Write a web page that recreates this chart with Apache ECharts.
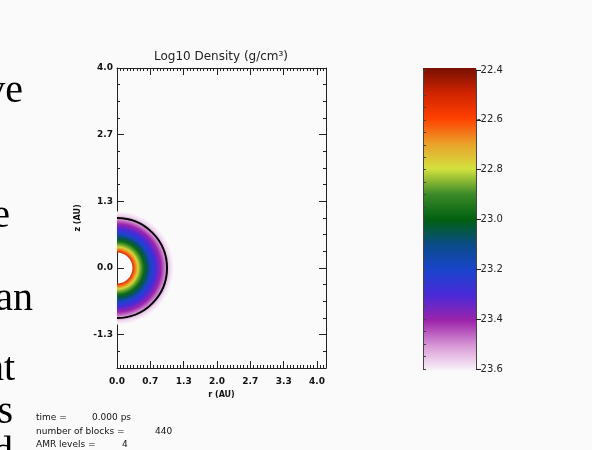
<!DOCTYPE html>
<html>
<head>
<meta charset="utf-8">
<script src="https://cdn.jsdelivr.net/npm/echarts@6/dist/echarts.min.js"></script>
<style>
  html, body { margin: 0; padding: 0; background: #fafafa; }
  #main { width: 592px; height: 450px; }
</style>
</head>
<body>
<div id="main"></div>
<script>
// radial profile of log10 density across the shell (r in AU)
const profileR = [0.31, 0.36, 0.42, 0.48, 0.54, 0.60, 0.68, 0.78, 0.88, 0.98, 1.06, 1.13];
const profileLogRho = [-22.50, -22.65, -22.78, -22.88, -22.98, -23.06, -23.20, -23.30, -23.40, -23.50, -23.57, -23.60];
const shellRadius = 1.0; // black contour

// plot axes
const rMin = 0, rMax = 4.18;
const zMin = -2, zMax = 4;
const zMajorTicks = [-4 / 3, 0, 4 / 3, 8 / 3, 4];

// colour bar
const cbMin = -23.6, cbMax = -22.4;
// palette, bottom (-23.6) to top (-22.4), one colour per 0.1
const paletteColors = [
  '#faf6fa', '#d898d6', '#9c24aa', '#4a2ad8', '#1a44cc', '#0a4c88', '#006010',
  '#3c8a28', '#d2e23e', '#eaa02a', '#ff4000', '#d02400', '#781000'
];

// annotation text
const titleText = 'Log10 Density (g/cm\u00b3)';
const infoLabels = ['time =', 'number of blocks =', 'AMR levels ='];
const infoValues = ['0.000 ps', '440', '4'];
const slideFragments = ['ve', 'e', 'an', 'nt', 'es', 'd'];

const chart = echarts.init(document.getElementById('main'));

function colorOf(v) {
  const t = Math.max(0, Math.min(1, (v - cbMin) / (cbMax - cbMin)));
  return echarts.color.lerp(t, paletteColors);
}

function isMultiple(v, step) {
  const k = v / step;
  return Math.abs(k - Math.round(k)) < 1e-6;
}

function fmt1(v) {
  return Math.abs(v) < 1e-9 ? '0.0' : v.toFixed(1);
}

const axisFont = { fontFamily: 'DejaVu Sans', fontSize: 9, fontWeight: 'bold', color: '#111' };
const lineStyle = { color: '#222', width: 1 };

function renderShell(params, api) {
  const c = api.coord([0, 0]);
  const k = api.size([1, 0])[0];
  const rOut = profileR[profileR.length - 1] * k;
  const stops = profileR.map((r, i) => ({ offset: (r * k) / rOut, color: colorOf(profileLogRho[i]) }));
  return {
    type: 'group',
    children: [
      {
        type: 'sector',
        shape: { cx: c[0], cy: c[1], r0: profileR[0] * k, r: rOut, startAngle: -Math.PI / 2, endAngle: Math.PI / 2 },
        style: { fill: new echarts.graphic.RadialGradient(c[0], c[1], rOut, stops, true) }
      },
      {
        type: 'arc',
        shape: { cx: c[0], cy: c[1], r: shellRadius * k, startAngle: -Math.PI / 2, endAngle: Math.PI / 2 },
        style: { stroke: '#000', lineWidth: 2, fill: null }
      }
    ]
  };
}

function renderColorbar(params, api) {
  const p0 = api.coord([0, api.value(1)]);
  const p1 = api.coord([1, api.value(2)]);
  const stops = paletteColors.map((c, i) => ({ offset: i / (paletteColors.length - 1), color: c }));
  return {
    type: 'rect',
    shape: { x: p0[0], y: p1[1] - 2, width: p1[0] - p0[0], height: p0[1] - p1[1] + 4 },
    style: { fill: new echarts.graphic.LinearGradient(0, 1, 0, 0, stops) }
  };
}

const graphics = [];
const fragX = [23, 10, 33, 15, 13, 13];
const fragY = [111, 236, 319, 389, 432, 473];
slideFragments.forEach((s, i) => {
  graphics.push({
    type: 'text', x: fragX[i], y: fragY[i],
    style: { text: s, font: '40px "Liberation Serif"', fill: '#000', textAlign: 'right', textVerticalAlign: 'bottom' }
  });
});
const infoY = [418, 432, 445];
const infoValX = [92, 155, 122];
infoLabels.forEach((s, i) => {
  graphics.push({ type: 'text', x: 36, y: infoY[i], style: { text: s, font: '9px "DejaVu Sans"', fill: '#111', textVerticalAlign: 'middle' } });
  graphics.push({ type: 'text', x: infoValX[i], y: infoY[i], style: { text: infoValues[i], font: '9px "DejaVu Sans"', fill: '#111', textVerticalAlign: 'middle' } });
});
graphics.push({
  type: 'text', x: 221, y: 57,
  style: { text: titleText, font: '12px "DejaVu Sans"', fill: '#222', textAlign: 'center', textVerticalAlign: 'middle' }
});

chart.setOption({
  backgroundColor: '#fafafa',
  animation: false,
  graphic: graphics,
  grid: [
    { left: 117, top: 68, width: 209, height: 300 },
    { left: 423, top: 70, width: 53, height: 299 }
  ],
  xAxis: [
    {
      gridIndex: 0, type: 'value', position: 'bottom', min: rMin, max: rMax, interval: 2 / 3,
      name: 'r (AU)', nameLocation: 'middle', nameGap: 22,
      nameTextStyle: { fontFamily: 'DejaVu Sans', fontSize: 8, fontWeight: 'bold', color: '#111' },
      axisLine: { onZero: false, lineStyle },
      axisTick: { inside: true, length: 7, lineStyle },
      minorTick: { show: true, splitNumber: 10, length: 3, lineStyle },
      axisLabel: Object.assign({ margin: 9, formatter: v => isMultiple(v, 2 / 3) ? fmt1(v) : '' }, axisFont),
      splitLine: { show: false }
    },
    {
      gridIndex: 0, type: 'value', position: 'top', min: rMin, max: rMax, interval: 2 / 3,
      axisLine: { onZero: false, lineStyle },
      axisTick: { inside: true, length: 7, lineStyle },
      minorTick: { show: true, splitNumber: 10, length: 3, lineStyle },
      axisLabel: { show: false },
      splitLine: { show: false }
    },
    {
      gridIndex: 1, type: 'value', min: 0, max: 1, show: false
    }
  ],
  yAxis: [
    {
      gridIndex: 0, type: 'value', position: 'left', min: zMin, max: zMax, interval: 1 / 3,
      name: 'z (AU)', nameLocation: 'middle', nameGap: 35, nameRotate: 90,
      nameTextStyle: { fontFamily: 'DejaVu Sans', fontSize: 8, fontWeight: 'bold', color: '#111' },
      axisLine: { onZero: false, lineStyle },
      axisTick: { inside: true, length: 3, lineStyle },
      axisLabel: Object.assign({ margin: 4, formatter: v => isMultiple(v, 4 / 3) ? fmt1(v) : '' }, axisFont),
      splitLine: { show: false }
    },
    {
      gridIndex: 0, type: 'value', position: 'left', min: zMin, max: zMax,
      axisLine: { show: false, onZero: false },
      axisTick: { inside: true, length: 7, lineStyle, customValues: zMajorTicks },
      axisLabel: { show: false },
      splitLine: { show: false }
    },
    {
      gridIndex: 0, type: 'value', position: 'right', min: zMin, max: zMax, interval: 1 / 3,
      axisLine: { show: true, onZero: false, lineStyle },
      axisTick: { inside: true, length: 3, lineStyle },
      axisLabel: { show: false },
      splitLine: { show: false }
    },
    {
      gridIndex: 0, type: 'value', position: 'right', min: zMin, max: zMax,
      axisLine: { show: false, onZero: false },
      axisTick: { inside: true, length: 7, lineStyle, customValues: zMajorTicks },
      axisLabel: { show: false },
      splitLine: { show: false }
    },
    {
      gridIndex: 1, type: 'value', position: 'left', min: cbMin, max: cbMax, interval: 0.05,
      axisLine: { show: true, onZero: false, lineStyle: { color: '#444', width: 1 } },
      axisTick: { inside: true, length: 3, lineStyle: { color: '#444' } },
      axisLabel: { show: false },
      splitLine: { show: false }
    },
    {
      gridIndex: 1, type: 'value', position: 'right', min: cbMin, max: cbMax, interval: 0.2,
      axisLine: { show: true, onZero: false, lineStyle: { color: '#444', width: 1 } },
      axisTick: { inside: false, length: 5, lineStyle: { color: '#222' } },
      axisLabel: { margin: 1, fontFamily: 'DejaVu Sans', fontSize: 10, color: '#222', formatter: v => v.toFixed(1) },
      splitLine: { show: false }
    }
  ],
  series: [
    {
      type: 'custom', xAxisIndex: 0, yAxisIndex: 0, clip: true, silent: true,
      renderItem: renderShell,
      data: [[0, 0]]
    },
    {
      type: 'custom', xAxisIndex: 2, yAxisIndex: 4, silent: true, z: 0,
      renderItem: renderColorbar,
      encode: { x: 0, y: [1, 2] },
      data: [[0, cbMin, cbMax]]
    }
  ]
});
</script>
</body>
</html>
